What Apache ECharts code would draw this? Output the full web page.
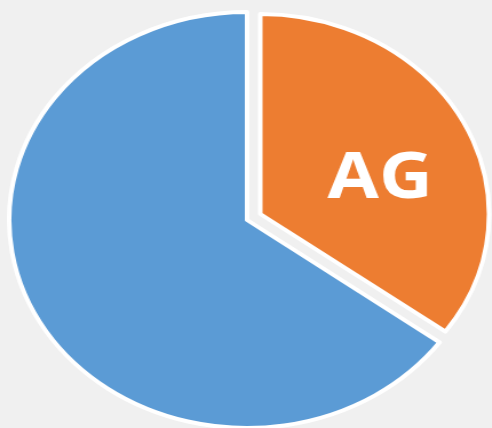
<!DOCTYPE html>
<html>
<head>
<meta charset="utf-8">
<script src="https://cdn.jsdelivr.net/npm/echarts@6/dist/echarts.min.js"></script>
<style>
	html, body {
		margin: 0;
		padding: 0;
		background: #f0f0f0;
		overflow: hidden;
	}
	/* the source picture is stretched sideways, so the round pie is too */
	#main {
		width: 430px;
		height: 428px;
		transform: scaleX(1.144);
		transform-origin: 0 0;
	}
</style>
</head>
<body>
<div id="main"></div>
<script>
	const names = ['AG', '']
	const values = [35, 65]
	const colors = ['#ed7d31', '#5b9bd5']

	const myChart = echarts.init(document.getElementById('main'))

	const hidden = { color: 'rgba(0,0,0,0)', borderWidth: 0 }
	const solid = (c) => ({ color: c, borderColor: '#ffffff', borderWidth: 4 })

	// blue slice drawn by the first ring, the pulled-out orange slice by the second
	const blueData = []
	const orangeData = []
	for (let i = 0; i < names.length; i++) {
		blueData.push({
			name: names[i],
			value: values[i],
			itemStyle: i === 1 ? solid(colors[i]) : hidden,
			label: { show: false }
		})
		orangeData.push({
			name: names[i],
			value: values[i],
			itemStyle: i === 0 ? solid(colors[i]) : hidden,
			label: { show: i === 0 }
		})
	}

	const option = {
		backgroundColor: '#f0f0f0',
		animation: false,
		series: [{
				type: 'pie',
				center: [216, 220],
				radius: 208,
				startAngle: 90,
				silent: true,
				label: { show: false },
				labelLine: { show: false },
				data: blueData
			},
			{
				type: 'pie',
				center: [227.5, 214],
				radius: 200,
				startAngle: 90,
				silent: true,
				label: {
					position: 'inside',
					formatter: '{b}',
					color: '#ffffff',
					fontFamily: 'Open Sans',
					fontWeight: 'bold',
					fontSize: 65,
					offset: [13, 12]
				},
				labelLine: { show: false },
				data: orangeData
			}
		]
	}

	myChart.setOption(option)
</script>
</body>
</html>
